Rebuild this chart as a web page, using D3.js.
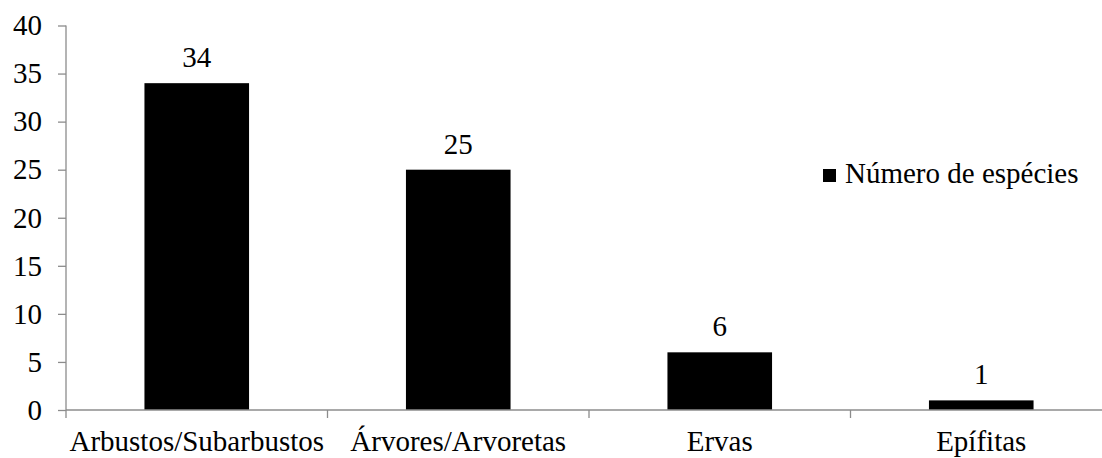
<!DOCTYPE html>
<html>
<head>
<meta charset="utf-8">
<script src="https://cdn.jsdelivr.net/npm/d3@7"></script>
<style>
  html, body { margin: 0; padding: 0; background: #fff; }
  svg { display: block; }
  svg text { font-family: "Liberation Serif", "Times New Roman", serif; font-size: 29px; }
</style>
</head>
<body>
<svg id="chart" width="1102" height="458"></svg>
<script>
// Growth-form counts
const categories = ["Arbustos/Subarbustos", "Árvores/Arvoretas", "Ervas", "Epífitas"];
const values = [34, 25, 6, 1];
const yTicks = [0, 5, 10, 15, 20, 25, 30, 35, 40];
const seriesName = "Número de espécies";

const svg = d3.select("#chart");
const plotLeft = 66, plotRight = 1112, plotTop = 25.5, plotBottom = 410;
const axisColor = "#8c8c8c";

const x = d3.scaleBand().domain(categories).range([plotLeft, plotRight]).paddingInner(0.6).paddingOuter(0.3);
const y = d3.scaleLinear().domain([0, 40]).range([plotBottom, plotTop]);

// Bars
svg.append("g").selectAll("rect").data(values).join("rect")
  .attr("x", (d, i) => x(categories[i]))
  .attr("y", d => y(d))
  .attr("width", x.bandwidth())
  .attr("height", d => y(0) - y(d))
  .attr("fill", "#000");

// Value labels
svg.append("g").selectAll("text").data(values).join("text")
  .attr("x", (d, i) => x(categories[i]) + x.bandwidth() / 2)
  .attr("y", d => y(d) - 16)
  .attr("text-anchor", "middle")
  .attr("fill", "#000")
  .text(d => d);

// Y axis
const yAxis = svg.append("g").attr("transform", `translate(${plotLeft},0)`)
  .call(d3.axisLeft(y).tickValues(yTicks).tickSize(8).tickPadding(16).tickFormat(d3.format("d")));
yAxis.select(".domain").attr("stroke", axisColor).attr("stroke-width", 1.3).attr("d", `M0,${plotTop}V${plotBottom}`);
yAxis.selectAll(".tick line").attr("stroke", axisColor).attr("stroke-width", 1.3);
yAxis.selectAll(".tick text").attr("fill", "#000");

// X axis with boundary ticks between categories
const xg = svg.append("g");
xg.append("line").attr("x1", plotLeft).attr("x2", plotRight).attr("y1", plotBottom).attr("y2", plotBottom)
  .attr("stroke", axisColor).attr("stroke-width", 1.3);
const boundaries = d3.range(categories.length + 1).map(i => plotLeft + i * (plotRight - plotLeft) / categories.length);
xg.selectAll("line.b").data(boundaries).join("line").attr("class", "b")
  .attr("x1", d => d).attr("x2", d => d).attr("y1", plotBottom).attr("y2", plotBottom + 8)
  .attr("stroke", axisColor).attr("stroke-width", 1.3);
xg.selectAll("text").data(categories).join("text")
  .attr("x", d => x(d) + x.bandwidth() / 2)
  .attr("y", 451)
  .attr("text-anchor", "middle")
  .attr("fill", "#000")
  .text(d => d);

// Legend
const lg = svg.append("g").attr("transform", "translate(823,169)");
lg.append("rect").attr("width", 13).attr("height", 13).attr("fill", "#000");
lg.append("text").attr("x", 22).attr("y", 14).attr("fill", "#000").text(seriesName);
</script>
</body>
</html>
